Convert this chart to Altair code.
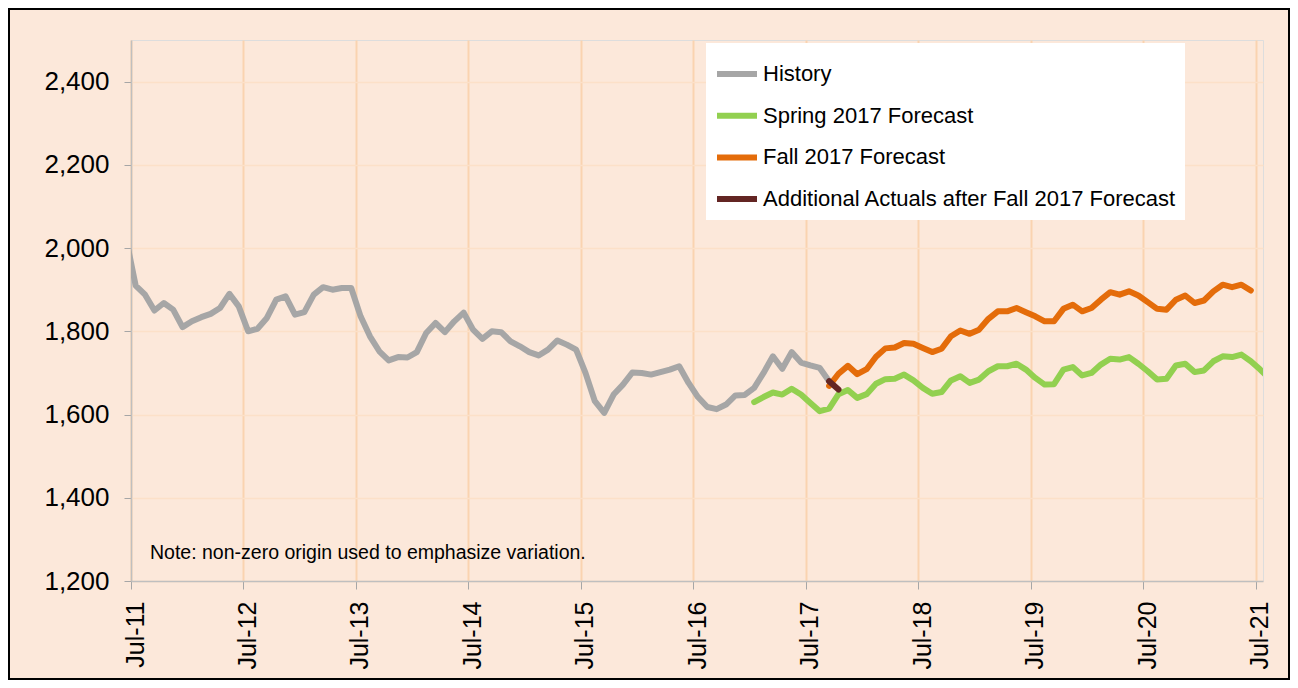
import altair as alt
import pandas as pd

# ---------------- data (month index 0 = Jul-11; values plotted mid-month) ----------------
series_names = [
    "History",
    "Spring 2017 Forecast",
    "Fall 2017 Forecast",
    "Additional Actuals after Fall 2017 Forecast",
]
series_colors = ["#A6A6A6", "#92D050", "#E46C0A", "#632523"]

history_start = -1
history_values = [
    2020, 1910, 1888, 1850, 1868, 1852, 1810, 1824, 1834, 1842, 1856, 1890, 1860,
    1800, 1806, 1832, 1876, 1884, 1840, 1846, 1888, 1906, 1900, 1904, 1904,
    1836, 1788, 1752, 1730, 1738, 1737, 1750, 1796, 1820, 1798, 1824, 1845,
    1804, 1782, 1800, 1798, 1776, 1764, 1750, 1742, 1756, 1778, 1768, 1756,
    1700, 1632, 1604, 1648, 1672, 1701, 1700, 1696, 1702, 1708, 1716,
    1676, 1642, 1618, 1613, 1624, 1646, 1647, 1664, 1700, 1740, 1710, 1750,
    1725, 1718, 1712, 1680,
]

spring_start = 66
spring_values = [
    1630, 1642, 1653, 1648, 1662, 1648, 1628, 1608, 1614, 1649, 1659, 1640,
    1649, 1674, 1685, 1686, 1696, 1682, 1664, 1650, 1654, 1682, 1692, 1676,
    1684, 1704, 1716, 1716, 1722, 1708, 1688, 1672, 1673, 1708, 1714, 1694,
    1700, 1720, 1734, 1732, 1738, 1722, 1704, 1684, 1686, 1718, 1722, 1702,
    1706, 1728, 1740, 1738, 1744, 1728, 1708, 1686,
]

fall_start = 74
fall_values = [
    1669, 1698, 1717, 1697, 1709, 1739, 1759, 1761, 1772, 1770, 1760, 1750,
    1758, 1788, 1802, 1794, 1804, 1830, 1848, 1848, 1856, 1846, 1836, 1824,
    1824, 1854, 1864, 1848, 1856, 1876, 1894, 1888, 1896, 1886, 1870, 1854,
    1852, 1876, 1886, 1868, 1874, 1896, 1912, 1906, 1912, 1898,
]

actuals_start = 74
actuals_values = [1680, 1660]

year_ticks = list(range(0, 121, 12))          # Jul-11 ... Jul-21
first_year = 11
y_ticks = [1200, 1400, 1600, 1800, 2000, 2200, 2400]
note_text = "Note: non-zero origin used to emphasize variation."

# ---------------- build table ----------------
rows = []
for name, start, vals in [
    (series_names[0], history_start, history_values),
    (series_names[1], spring_start, spring_values),
    (series_names[2], fall_start, fall_values),
    (series_names[3], actuals_start, actuals_values),
]:
    for i, v in enumerate(vals):
        rows.append({"series": name, "month": start + i + 0.5, "value": v})
df = pd.DataFrame(rows)

FONT = "Liberation Sans"
W, H = 1132, 541
PAD = {"left": 123, "top": 32, "right": 27, "bottom": 99}

x_enc = alt.X(
    "month:Q",
    scale=alt.Scale(domain=[0, 120.8], nice=False, zero=False),
    axis=alt.Axis(
        values=year_ticks,
        labelExpr=f"'Jul-' + ({first_year} + datum.value / 12)",
        labelAngle=270,
        labelFlush=False,
        labelFontSize=25,
        labelFont=FONT,
        labelColor="black",
        labelPadding=12,
        labelOffset=4,
        tickSize=8,
        tickColor="#A6A6A6",
        domainColor="#BFBFBF",
        domainWidth=1.5,
        gridColor="#FAD3B0",
        gridWidth=2,
        title=None,
    ),
)
y_enc = alt.Y(
    "value:Q",
    scale=alt.Scale(domain=[1200, 2500], nice=False, zero=False),
    axis=alt.Axis(
        values=y_ticks,
        format=",.0f",
        labelFontSize=26,
        labelFont=FONT,
        labelColor="black",
        labelPadding=15,
        tickSize=7,
        tickColor="#A6A6A6",
        domainColor="#BFBFBF",
        domainWidth=1.5,
        gridColor="#FCE0C8",
        gridWidth=1.5,
        title=None,
    ),
)
color_enc = alt.Color(
    "series:N",
    scale=alt.Scale(domain=series_names, range=series_colors),
    legend=alt.Legend(
        title=None,
        orient="none",
        legendX=575,
        legendY=3,
        fillColor="white",
        padding=8,
        symbolType="stroke",
        symbolSize=1600,
        symbolStrokeWidth=6,
        labelFontSize=22,
        labelFont=FONT,
        labelColor="black",
        labelOffset=3,
        labelLimit=700,
        rowPadding=6.7,
    ),
)

base = alt.Chart(df)
layers = []
for name in series_names:
    layers.append(
        base.transform_filter(alt.datum.series == name)
        .mark_line(strokeWidth=6, strokeCap="round", strokeJoin="round", clip=True)
        .encode(x=x_enc, y=y_enc, color=color_enc)
    )

note = alt.Chart(pd.DataFrame({"note": [note_text]})).mark_text(
    align="left", baseline="middle", fontSize=19.5, font=FONT, color="black"
).encode(text="note:N", x=alt.value(19), y=alt.value(513))

border = alt.Chart(pd.DataFrame({"b": [0]})).mark_rect(
    fillOpacity=0, stroke="black", strokeWidth=2
).encode(
    x=alt.value(-PAD["left"] + 1),
    x2=alt.value(W + PAD["right"] - 1),
    y=alt.value(-PAD["top"] + 1),
    y2=alt.value(H + PAD["bottom"] - 1),
)

chart = (
    alt.layer(*layers, note, border)
    .properties(
        width=W,
        height=H,
        padding=PAD,
        autosize=alt.AutoSizeParams(type="none"),
        background="#FCE8DA",
    )
    .configure_view(fill="white", stroke="transparent")
    .configure(font=FONT)
)

chart.save("out.html", embed_options={"renderer": "svg", "actions": False})
